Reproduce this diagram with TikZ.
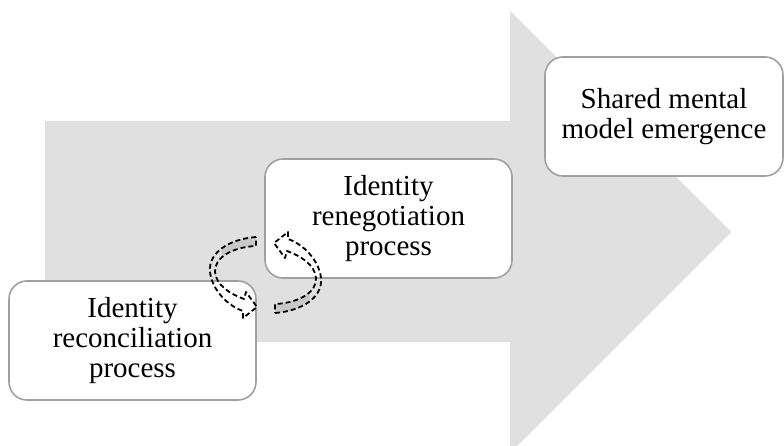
\documentclass[tikz,border=0pt]{standalone}
\usepackage{fontspec}
\setmainfont{Liberation Serif}
\definecolor{flowgray}{RGB}{224,224,224}
\definecolor{edgegray}{RGB}{160,160,160}
\definecolor{tailgray}{RGB}{200,200,200}
\tikzset{
  stagebox/.style={draw=edgegray, line width=1.6pt, fill=white,
    rounded corners=18pt, align=center, inner sep=0pt,
    minimum height=119pt,
    font=\fontsize{29}{30}\selectfont},
  dashline/.style={draw=black, line width=1.8pt, dash pattern=on 5pt off 3pt, line join=round},
  swirl/.pic={
    % shaded tail face of the curled band
    \begin{scope}
      \clip (-44,-45) rectangle (0,-19);
      \fill[tailgray] (-9.5,-38) .. controls (-35.5,-36) and (-57.5,-23) .. (-55.5,-3)
        .. controls (-53.5,15) and (-37.5,31) .. (-22.5,36) -- (-22.5,43) -- (-8.5,32)
        -- (-19.5,17) -- (-21.5,24) .. controls (-35.5,19) and (-49.5,10) .. (-50.5,-3)
        .. controls (-51.5,-17) and (-33.5,-28) .. (-9.5,-29) -- cycle;
    \end{scope}
    % dashed outline of the curled arrow
    \draw[dashline] (-9.5,-38) .. controls (-35.5,-36) and (-57.5,-23) .. (-55.5,-3)
        .. controls (-53.5,15) and (-37.5,31) .. (-22.5,36) -- (-22.5,43) -- (-8.5,32)
        -- (-19.5,17) -- (-21.5,24) .. controls (-35.5,19) and (-49.5,10) .. (-50.5,-3)
        .. controls (-51.5,-17) and (-33.5,-28) .. (-9.5,-29) -- cycle;
  }
}
\begin{document}
\begin{tikzpicture}[x=1pt,y=-1pt]
  \useasboundingbox (0,0) rectangle (784,446);
  \begin{scope}
    \clip (0,0) rectangle (784,446);
    % broad progression arrow in the background
    \fill[flowgray] (45,121) -- (510,121) -- (510,11) -- (731,232) -- (510,453)
      -- (510,342) -- (45,342) -- cycle;
  \end{scope}

  \node[stagebox, minimum width=247pt] (recon) at (132.5,340.5)
    {Identity\\reconciliation\\process};
  \node[stagebox, minimum width=247pt] (reneg) at (388.5,218.5)
    {Identity\\renegotiation\\process};
  \node[stagebox, minimum width=238pt] (shared) at (664,116.5)
    {Shared mental\\model emergence};

  % pair of curled arrows cycling between the two identity processes
  \coordinate (hub) at (265.5,275);
  \pic at (hub) {swirl};
  \pic[rotate=180] at (hub) {swirl};
\end{tikzpicture}
\end{document}
